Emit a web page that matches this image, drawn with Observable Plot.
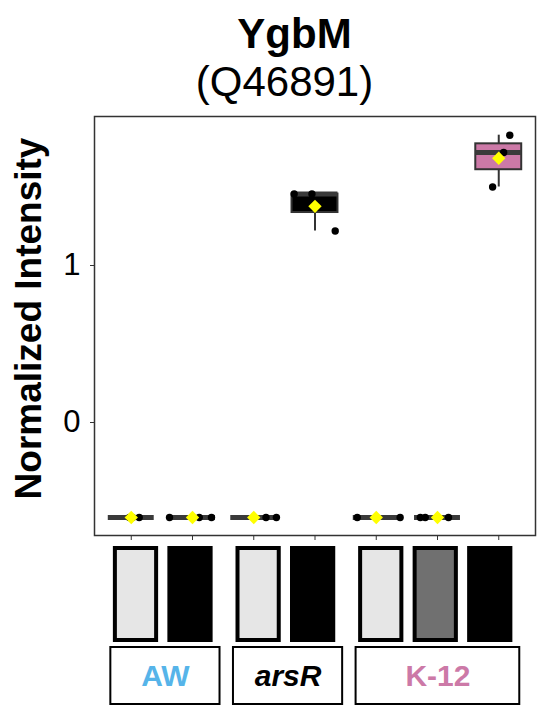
<!DOCTYPE html>
<html>
<head>
<meta charset="utf-8">
<script src="https://cdn.jsdelivr.net/npm/d3@7"></script>
<script src="https://cdn.jsdelivr.net/npm/@observablehq/plot@0.6"></script>
<style>
  html, body { margin: 0; padding: 0; background: white; }
  #wrap { position: relative; width: 550px; height: 723px; overflow: hidden; background: white; font-family: "Liberation Sans", Arial, sans-serif; }
  #wrap > * { position: absolute; left: 0; }
</style>
</head>
<body>
<div id="wrap"></div>
<script>
// ---- data ----
const titleMain = "YgbM";
const titleSub = "(Q46891)";
const yLabel = "Normalized Intensity";
const categories = ["AW-1", "AW-2", "arsR-1", "arsR-2", "K12-1", "K12-2", "K12-3"];
const strainOf   = ["AW", "AW", "arsR", "arsR", "K-12", "K-12", "K-12"];
const boxFill    = ["#e6e6e6", "#000000", "#e6e6e6", "#000000", "#e6e6e6", "#707070", "#CC79A7"];
const tileShade  = ["#e6e6e6", "#000000", "#e6e6e6", "#000000", "#e6e6e6", "#707070", "#000000"];
// replicate values (3 per category)
const values = [
  [-0.605, -0.605, -0.605],
  [-0.605, -0.605, -0.605],
  [-0.605, -0.605, -0.605],
  [1.455, 1.455, 1.22],
  [-0.605, -0.605, -0.605],
  [-0.605, -0.605, -0.605],
  [1.83, 1.72, 1.50]
];
// horizontal jitter of each replicate (in category widths)
const jitter = [
  [0.13, 0.02, -0.03],
  [-0.375, 0.11, 0.31],
  [0.2, 0.37, 0.0],
  [-0.34, -0.05, 0.33],
  [-0.31, 0.39, 0.0],
  [-0.28, -0.2, 0.18],
  [0.18, 0.08, -0.1]
];
const yTicks = [0, 1];
const strains = ["AW", "arsR", "K-12"];
const strainColor = ["#56B4E9", "#000000", "#CC79A7"];
const strainItalic = [false, true, false];

// ---- derived tables ----
const stats = categories.map((c, i) => {
  const v = values[i].slice().sort(d3.ascending);
  const q1 = d3.quantile(v, 0.25), q3 = d3.quantile(v, 0.75), med = d3.quantile(v, 0.5);
  const iqr = q3 - q1;
  const lo = d3.min(v.filter(x => x >= q1 - 1.5 * iqr));
  const hi = d3.max(v.filter(x => x <= q3 + 1.5 * iqr));
  return {cat: c, pos: i + 1, q1, q3, med, lo, hi, mean: d3.mean(v), fill: boxFill[i]};
});
const samples = categories.flatMap((c, i) => values[i].map((v, j) => ({pos: i + 1, jit: jitter[i][j], v})));

const FONT = "Liberation Sans, Arial, sans-serif";
const half = 0.375;

const main = Plot.plot({
  width: 550, height: 545,
  marginTop: 116, marginBottom: 10, marginLeft: 94, marginRight: 15,
  x: {domain: [0.4, 7.6], axis: null},
  y: {domain: [(422 - 535) / 157, (422 - 116) / 157], axis: null},
  style: {fontFamily: FONT, background: "white", overflow: "visible"},
  marks: [
    Plot.axisY({ticks: yTicks, tickSize: 4, tickPadding: 10, fontSize: 31, stroke: "#333", fill: "black", label: null, tickFormat: d => String(d)}),
    Plot.axisX({ticks: d3.range(1, categories.length + 1), tickSize: 5, tickFormat: () => "", stroke: "#333", label: null}),
    Plot.ruleX(stats, {x: "pos", y1: "lo", y2: "q1", stroke: "#333", strokeWidth: 2}),
    Plot.ruleX(stats, {x: "pos", y1: "q3", y2: "hi", stroke: "#333", strokeWidth: 2}),
    Plot.rect(stats, {x1: d => d.pos - half, x2: d => d.pos + half, y1: "q1", y2: "q3", fill: "fill", stroke: "#333", strokeWidth: 2}),
    Plot.ruleY(stats, {y: "med", x1: d => d.pos - half, x2: d => d.pos + half, stroke: "#3a3a3a", strokeWidth: 5}),
    Plot.dot(samples, {x: d => d.pos + d.jit, y: "v", r: 3.7, fill: "black"}),
    Plot.dot(stats, {x: "pos", y: "mean", symbol: "diamond2", r: 6, fill: "#FFFF00"}),
    Plot.frame({stroke: "#333", strokeWidth: 1.5}),
    Plot.text([yLabel], {frameAnchor: "left", rotate: -90, dx: -54, dy: -7.5, fontSize: 37, fontWeight: "bold", fill: "black", lineAnchor: "bottom", textAnchor: "middle"}),
    Plot.text([titleMain], {frameAnchor: "top", dx: 294 - 314.5, dy: 47 - 116, fontSize: 42, fontWeight: "bold", fill: "black", lineAnchor: "bottom", textAnchor: "middle"}),
    Plot.text([titleSub], {frameAnchor: "top", dx: 284 - 314.5, dy: 95 - 116, fontSize: 42, fill: "black", lineAnchor: "bottom", textAnchor: "middle"})
  ]
});
main.style.top = "0px";

// bottom panel: condition tiles + strain boxes
const groupGap = 0.25;
const slot = categories.map((c, i) => i + strains.indexOf(strainOf[i]) * groupGap);
const xb = {domain: [-135.5 / 54.5, (550 - 135.5) / 54.5], axis: null};
const tiles = categories.map((c, i) => ({slot: slot[i], fill: tileShade[i]}));
const tileHalf = 0.415;

const tilePlot = Plot.plot({
  width: 550, height: 96, margin: 0,
  x: xb,
  style: {background: "transparent"},
  marks: [
    Plot.rect(tiles, {x1: d => d.slot - tileHalf, x2: d => d.slot + tileHalf, fill: "fill", stroke: "black", strokeWidth: 4, inset: 2})
  ]
});
tilePlot.style.top = "546px";

const strainRows = strains.map((s, k) => {
  const sl = slot.filter((_, i) => strainOf[i] === s);
  return {name: s, x1: d3.min(sl) - 0.48, x2: d3.max(sl) + 0.56, color: strainColor[k], italic: strainItalic[k]};
});
const labelPlot = Plot.plot({
  width: 550, height: 59, margin: 0,
  x: xb,
  style: {fontFamily: FONT, background: "transparent"},
  marks: [
    Plot.rect(strainRows, {x1: "x1", x2: "x2", fill: "white", stroke: "black", strokeWidth: 2, inset: 1}),
    Plot.text(strainRows.filter(d => !d.italic), {x: d => (d.x1 + d.x2) / 2, text: "name", fill: "color", fontSize: 30, fontWeight: "bold", dy: 0}),
    Plot.text(strainRows.filter(d => d.italic), {x: d => (d.x1 + d.x2) / 2, text: "name", fill: "color", fontSize: 30, fontWeight: "bold", fontStyle: "italic", dy: 0})
  ]
});
labelPlot.style.top = "646px";

const wrap = document.getElementById("wrap");
wrap.append(main, tilePlot, labelPlot);
</script>
</body>
</html>
